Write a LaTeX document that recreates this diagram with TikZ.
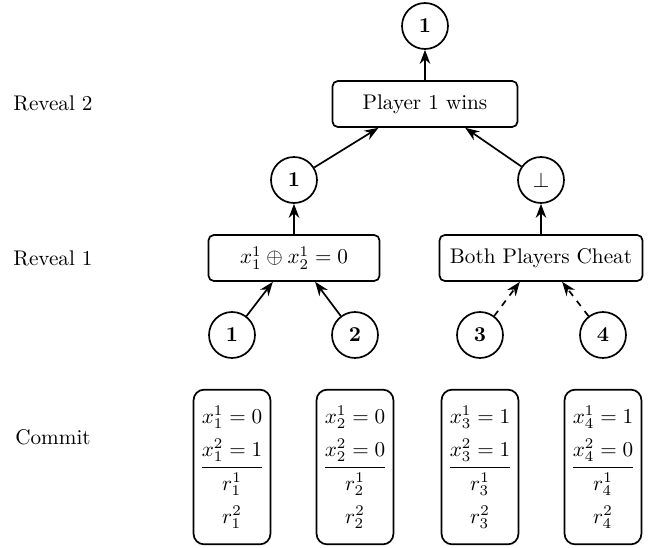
\documentclass[tikz,border=0pt]{standalone}
\usepackage{amsmath,amssymb}
\usetikzlibrary{arrows.meta}
\newcommand{\opening}[3]{{\renewcommand{\arraystretch}{1.3}%
  $\begin{array}{@{}c@{}}
    x_{#1}^1=#2\\
    x_{#1}^2=#3\\ \hline
    r_{#1}^1\\
    r_{#1}^2
  \end{array}$}}

\begin{document}
\begin{tikzpicture}[x=0.01658cm,y=-0.01658cm,>=Stealth,
  state/.style={circle,draw,line width=0.8pt,minimum size=21.7pt,inner sep=0pt},
  stage/.style={rectangle,rounded corners=2.5pt,draw,line width=0.8pt,minimum height=21.7pt},
  commit/.style={rectangle,rounded corners=5pt,draw,line width=0.8pt,
    minimum width=36.3pt,minimum height=73pt,inner sep=3pt},
  link/.style={->,line width=0.8pt},
  cheatlink/.style={link,dashed}]
  \useasboundingbox (0,0) rectangle (660,548);
  % round labels
  \node (lrtwo) at (53,103) {Reveal 2};
  \node (lrone) at (53,258) {Reveal 1};
  \node (lcom) at (53,437) {Commit};
  % tree
  \node[state] (top) at (425,26) {\textbf{1}};
  \node[stage,minimum width=87.3pt] (wins) at (425,104) {Player 1 wins};
  \node[state] (left) at (294,180) {\textbf{1}};
  \node[state] (right) at (541,180) {$\bot$};
  \node[stage,minimum width=80.7pt] (xor) at (294,258) {$x_1^1\oplus x_2^1=0$};
  \node[stage,minimum width=95.8pt] (cheat) at (541,258) {Both Players Cheat};
  \foreach \i/\xx/\a/\b in {1/232/0/1,2/355/0/0,3/480/1/1,4/603/1/0}{
    \node[state] (p\i) at (\xx,335) {\textbf{\i}};
    \node[commit] (m\i) at (\xx,467) {\opening{\i}{\a}{\b}};
  }
  \draw[link] (wins) -- (top);
  \draw[link] (left) -- ([xshift=-22pt]wins.south);
  \draw[link] (right) -- ([xshift=19pt]wins.south);
  \draw[link] (xor) -- (left);
  \draw[link] (cheat) -- (right);
  \draw[link] (p1) -- ([xshift=-10pt]xor.south);
  \draw[link] (p2) -- ([xshift=10pt]xor.south);
  \draw[cheatlink] (p3) -- ([xshift=-10pt]cheat.south);
  \draw[cheatlink] (p4) -- ([xshift=10pt]cheat.south);
\end{tikzpicture}
\end{document}
